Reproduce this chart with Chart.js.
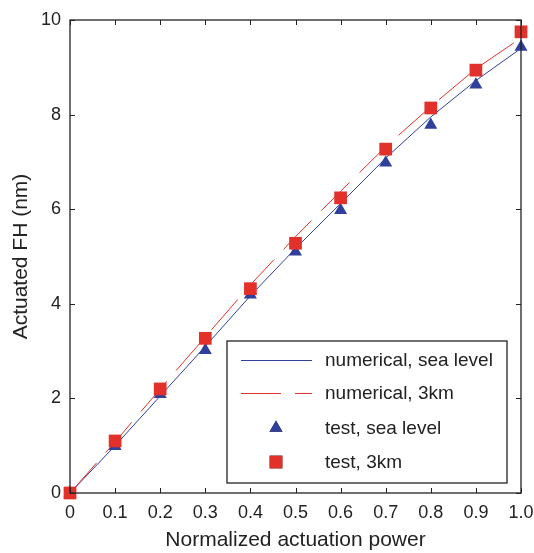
<!DOCTYPE html>
<html lang="en">
<head>
  <meta charset="UTF-8" />
  <title>Actuated FH</title>
  <script src="https://cdn.jsdelivr.net/npm/chart.js"></script>
  <style>
    html, body { margin: 0; padding: 0; background: #fff; }
    #wrap { width: 534px; height: 553px; }
  </style>
</head>
<body>
  <div id="wrap"><canvas id="chartFH"></canvas></div>
  <script>
    // datos
    const potencia = [0, 0.1, 0.2, 0.3, 0.4, 0.5, 0.6, 0.7, 0.8, 0.9, 1.0];
    const numSeaLevel = [0, 1.0, 2.05, 3.1, 4.17, 5.17, 6.12, 7.08, 7.95, 8.72, 9.4];
    const num3km = [0, 1.08, 2.2, 3.3, 4.4, 5.42, 6.38, 7.32, 8.17, 8.97, 9.62];
    const testSeaLevel = [0, 0.99, 2.09, 3.02, 4.19, 5.1, 5.98, 6.98, 7.78, 8.63, 9.43];
    const test3km = [0, 1.1, 2.2, 3.27, 4.32, 5.28, 6.24, 7.27, 8.14, 8.94, 9.75];
    const xTicks = [0, 0.1, 0.2, 0.3, 0.4, 0.5, 0.6, 0.7, 0.8, 0.9, 1.0];
    const yTicks = [0, 2, 4, 6, 8, 10];

    const azul = '#2f3f9c';
    const rojo = '#e2312a';
    const fuente = '"Liberation Sans", Arial, sans-serif';

    const pares = ys => potencia.map((x, i) => ({ x: x, y: ys[i] }));

    // caja, marcas interiores y leyenda
    const marcoPlugin = {
      id: 'marco',
      afterDatasetsDraw(chart) {
        const { ctx, chartArea: a, scales } = chart;
        ctx.save();
        ctx.strokeStyle = '#222';
        ctx.lineWidth = 1.3;
        ctx.strokeRect(a.left, a.top, a.right - a.left, a.bottom - a.top);
        ctx.lineWidth = 1;
        xTicks.forEach(v => {
          const px = Math.round(scales.x.getPixelForValue(v)) + 0.5;
          ctx.beginPath();
          ctx.moveTo(px, a.bottom); ctx.lineTo(px, a.bottom - 5);
          ctx.moveTo(px, a.top); ctx.lineTo(px, a.top + 5);
          ctx.stroke();
        });
        yTicks.forEach(v => {
          const py = Math.round(scales.y.getPixelForValue(v)) + 0.5;
          ctx.beginPath();
          ctx.moveTo(a.left, py); ctx.lineTo(a.left + 5, py);
          ctx.moveTo(a.right, py); ctx.lineTo(a.right - 5, py);
          ctx.stroke();
        });

        // leyenda
        const bx = 227, by = 341, bw = 280, bh = 142;
        ctx.fillStyle = '#fff';
        ctx.fillRect(bx, by, bw, bh);
        ctx.strokeStyle = '#222';
        ctx.lineWidth = 1.3;
        ctx.strokeRect(bx, by, bw, bh);
        const filas = [19, 52, 87, 121];
        const ds = chart.data.datasets;
        ctx.font = '19px ' + fuente;
        ctx.textBaseline = 'middle';
        ctx.textAlign = 'left';
        filas.forEach((dy, i) => {
          const d = ds[i];
          const yy = by + dy;
          if (d.showLine) {
            ctx.beginPath();
            ctx.strokeStyle = d.borderColor;
            ctx.lineWidth = 1;
            ctx.setLineDash(d.borderDash || []);
            ctx.moveTo(bx + 14, yy + 0.5);
            ctx.lineTo(bx + 85, yy + 0.5);
            ctx.stroke();
            ctx.setLineDash([]);
          } else {
            Chart.helpers.drawPoint(ctx, {
              pointStyle: d.pointStyle, radius: d.pointRadius, borderWidth: 0
            }, bx + 49, yy);
            ctx.fillStyle = d.backgroundColor;
            ctx.fill();
          }
          ctx.fillStyle = '#222';
          ctx.fillText(d.label, bx + 98, yy + 1);
        });
        ctx.restore();
      }
    };

    new Chart(document.getElementById('chartFH'), {
      type: 'scatter',
      data: {
        datasets: [
          {
            label: 'numerical, sea level',
            data: pares(numSeaLevel),
            showLine: true,
            borderColor: azul,
            borderWidth: 1,
            pointRadius: 0,
            order: 3
          },
          {
            label: 'numerical, 3km',
            data: pares(num3km),
            showLine: true,
            borderColor: rojo,
            borderWidth: 1,
            borderDash: [40, 14],
            pointRadius: 0,
            order: 2
          },
          {
            label: 'test, sea level',
            data: pares(testSeaLevel),
            showLine: false,
            pointStyle: 'triangle',
            pointRadius: 7.5,
            backgroundColor: azul,
            borderColor: azul,
            borderWidth: 0,
            clip: false,
            order: 1
          },
          {
            label: 'test, 3km',
            data: pares(test3km),
            showLine: false,
            pointStyle: 'rect',
            pointRadius: 9,
            backgroundColor: rojo,
            borderColor: rojo,
            borderWidth: 0,
            clip: false,
            order: 0
          }
        ]
      },
      options: {
        responsive: true,
        maintainAspectRatio: false,
        animation: false,
        layout: { padding: { top: 20, right: 13, left: 0, bottom: 0 } },
        plugins: {
          legend: { display: false },
          tooltip: { enabled: false }
        },
        scales: {
          x: {
            type: 'linear',
            min: 0,
            max: 1,
            afterBuildTicks: s => { s.ticks = xTicks.map(v => ({ value: v })); },
            afterFit: s => { s.height = 60; s.paddingRight = 0; s.paddingLeft = 0; },
            grid: { display: false, drawTicks: false },
            border: { display: false },
            ticks: {
              padding: 9,
              color: '#222',
              maxRotation: 0,
              font: { family: fuente, size: 18 },
              callback: v => v === 0 ? '0' : v.toFixed(1)
            },
            title: {
              display: true,
              text: 'Normalized actuation power',
              color: '#222',
              font: { family: fuente, size: 21 },
              padding: { top: 2, bottom: 0 }
            }
          },
          y: {
            type: 'linear',
            min: 0,
            max: 10,
            afterBuildTicks: s => { s.ticks = yTicks.map(v => ({ value: v })); },
            afterFit: s => { s.width = 70; s.paddingTop = 0; s.paddingBottom = 0; },
            grid: { display: false, drawTicks: false },
            border: { display: false },
            ticks: {
              padding: 9,
              color: '#222',
              font: { family: fuente, size: 18 }
            },
            title: {
              display: true,
              text: 'Actuated FH (nm)',
              color: '#222',
              font: { family: fuente, size: 21 },
              padding: { top: 9, bottom: 0 }
            }
          }
        }
      },
      plugins: [marcoPlugin]
    });
  </script>
</body>
</html>
